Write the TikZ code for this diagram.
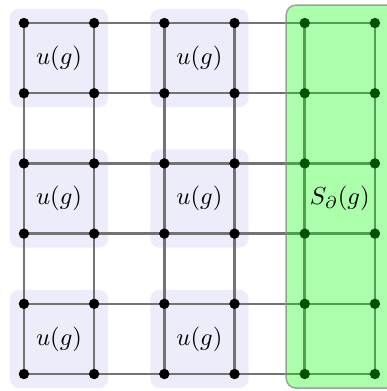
\documentclass[tikz,border=0pt]{standalone}
\definecolor{cellblue}{RGB}{236,236,250}
\begin{document}
\begin{tikzpicture}[x=1cm,y=1cm,
  gridline/.style={draw=black!55,line width=1pt},
  vertex/.style={fill=black},
  cellbox/.style={fill=cellblue,rounded corners=0.13cm},
  bdrybox/.style={fill=green,fill opacity=0.33,draw=black!45,draw opacity=0.8,line width=0.6pt,rounded corners=0.14cm}]
\useasboundingbox (-0.341,0.328) rectangle (5.170,-5.242);
% blue plaquette boxes
\foreach \i in {0,2}{
  \foreach \j in {0,2,4}{
    \fill[cellbox] (\i-0.2,-\j+0.2) rectangle (\i+1.2,-\j-1.2);
    \node (u-\i-\j) at (\i+0.5,-\j-0.5) {$u(g)$};
  }
}
% coordinates of vertices
\foreach \i in {0,...,5}{
  \foreach \j in {0,...,5}{
    \coordinate (p-\i-\j) at (\i,-\j);
  }
}
% grid lines
\foreach \j in {0,...,5}{ \draw[gridline] (p-0-\j) -- (p-5-\j); }
\foreach \i in {0,...,5}{ \draw[gridline] (p-\i-0) -- (p-\i-5); }
% vertices
\foreach \i in {0,...,5}{
  \foreach \j in {0,...,5}{
    \fill[vertex] (p-\i-\j) circle (0.074);
  }
}
% boundary region
\draw[bdrybox] (3.736,0.256) rectangle (5.5,-5.2);
\node (S) at (4.5,-2.5) {$S_\partial(g)$};
\end{tikzpicture}
\end{document}
